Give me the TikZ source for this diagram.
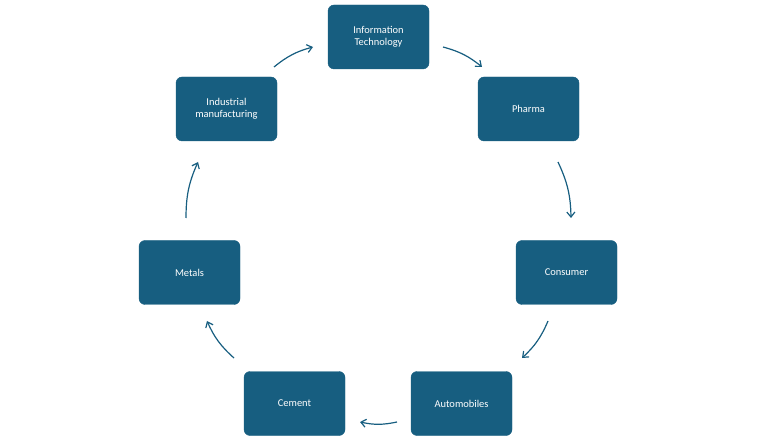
\documentclass[tikz,border=0pt]{standalone}
\usepackage{fontspec}
\setmainfont{Carlito}
\usetikzlibrary{arrows.meta}
\definecolor{boxc}{HTML}{175E80}
\begin{document}
\begin{tikzpicture}[x=1bp,y=-1bp,
  box/.style={draw=boxc,fill=boxc,rounded corners=6bp,minimum width=101bp,minimum height=64bp,text=white,align=center,font=\fontsize{10.5}{12.5}\selectfont,inner sep=2bp},
  arr/.style={draw=boxc,line width=1.2bp,-{Straight Barb[length=5bp,width=8bp]},bend left=18}]
\useasboundingbox (0,0) rectangle (760,447);
\node[box] (it) at (378.5,37) {Information\\Technology};
\node[box] (ph) at (528.5,109) {Pharma};
\node[box] (co) at (566.5,272.5) {Consumer};
\node[box] (au) at (461.5,403.5) {Automobiles};
\node[box] (ce) at (294.5,403.5) {Cement};
\node[box] (me) at (189.5,272.5) {Metals};
\node[box] (in) at (226.5,109) {Industrial\\manufacturing};
\coordinate (a1) at (274,67); \coordinate (b1) at (313,47);
\coordinate (a2) at (443,47); \coordinate (b2) at (482,67);
\coordinate (a3) at (558,162); \coordinate (b3) at (571,218);
\coordinate (a4) at (548,321); \coordinate (b4) at (522,358);
\coordinate (a5) at (397,422); \coordinate (b5) at (360,422);
\coordinate (a6) at (234,358); \coordinate (b6) at (207,321);
\coordinate (a7) at (186,218); \coordinate (b7) at (198,162);
\draw[arr,bend left=12] (a1) to (b1);
\draw[arr,bend left=12] (a2) to (b2);
\draw[arr,bend left=12] (a3) to (b3);
\draw[arr,bend left=12] (a4) to (b4);
\draw[arr,bend left=12] (a5) to (b5);
\draw[arr,bend left=12] (a6) to (b6);
\draw[arr,bend left=12] (a7) to (b7);
\end{tikzpicture}
\end{document}
